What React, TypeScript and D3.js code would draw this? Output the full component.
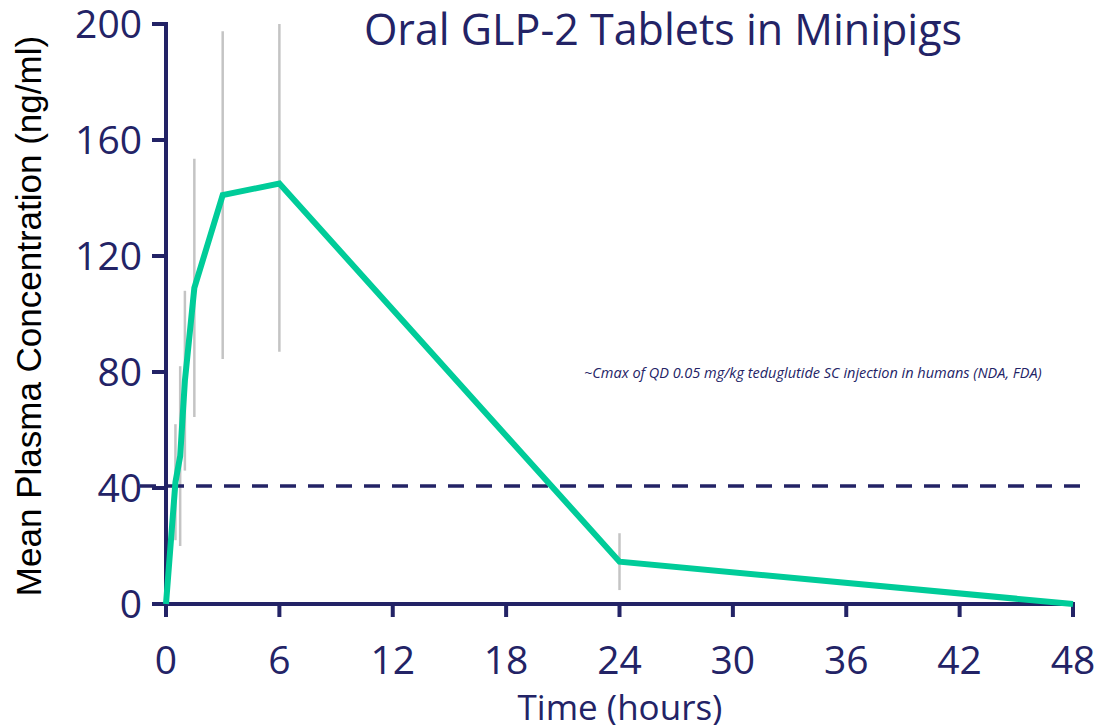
import React from "react";
import * as d3 from "d3";

const timesH = [0, 0.5, 0.75, 1, 1.5, 3, 6, 24, 48];
const meanConc = [0, 42, 51, 77, 109, 141, 145, 14.6, 0];
const sdConc = [0, 20, 31, 31, 44.5, 56.5, 58, 9.8, 0];
const xTicks = [0, 6, 12, 18, 24, 30, 36, 42, 48];
const yTicks = [0, 40, 80, 120, 160, 200];
const cmaxRef = 40;

const NAVY = "#232366";
const GREEN = "#00cc99";

export default function App() {
  const W = 1097, H = 725;
  const x = d3.scaleLinear().domain([0, 48]).range([166, 1073]);
  const y = d3.scaleLinear().domain([0, 200]).range([604, 24]);
  const line = d3.line<number>().x((_, i) => x(timesH[i])).y((d) => y(d));
  const font = "'Open Sans', 'Noto Sans', sans-serif";
  return (
    <svg width={W} height={H} style={{ position: "absolute", left: 0, top: 0 }}>
      <rect width={W} height={H} fill="#fff" />
      {/* error bars */}
      {timesH.map((t, i) =>
        sdConc[i] > 0 ? (
          <line key={"e" + i} x1={x(t)} x2={x(t)} y1={y(Math.min(200, meanConc[i] + sdConc[i]))}
            y2={y(Math.max(0, meanConc[i] - sdConc[i]))} stroke="#c4c4c4" strokeWidth={2.5} />
        ) : null
      )}
      {/* dashed reference */}
      <line x1={140} x2={1090} y1={y(cmaxRef) - 2} y2={y(cmaxRef) - 2} stroke={NAVY} strokeWidth={3.5} strokeDasharray="16 12" />
      {/* axes */}
      <line x1={x(0)} x2={x(0)} y1={y(200) - 2} y2={y(0) + 13} stroke={NAVY} strokeWidth={4} />
      <line x1={152} x2={x(48) + 2} y1={y(0)} y2={y(0)} stroke={NAVY} strokeWidth={4} />
      {yTicks.map((v) => (
        <g key={"y" + v}>
          <line x1={152} x2={x(0)} y1={y(v)} y2={y(v)} stroke={NAVY} strokeWidth={4} />
          <text x={142} y={y(v)} dy="0.36em" textAnchor="end" fill={NAVY} fontFamily={font} fontSize={39}>{v}</text>
        </g>
      ))}
      {xTicks.map((v) => (
        <g key={"x" + v}>
          <line x1={x(v)} x2={x(v)} y1={y(0)} y2={y(0) + 13} stroke={NAVY} strokeWidth={4} />
          <text x={x(v)} y={660} dy="0.36em" textAnchor="middle" fill={NAVY} fontFamily={font} fontSize={39}>{v}</text>
        </g>
      ))}
      {/* data line */}
      <path d={line(meanConc) || ""} fill="none" stroke={GREEN} strokeWidth={6} strokeLinejoin="miter" />
      {/* texts */}
      <text x={663} y={30} dy="0.36em" textAnchor="middle" fill={NAVY} fontFamily={font} fontSize={43}>Oral GLP-2 Tablets in Minipigs</text>
      <text x={620} y={707} dy="0.36em" textAnchor="middle" fill={NAVY} fontFamily={font} fontSize={35}>Time (hours)</text>
      <text transform={`translate(28,316) rotate(-90)`} dy="0.36em" textAnchor="middle" fill="#000" fontFamily="'Liberation Sans', Arial, sans-serif" fontSize={35}>Mean Plasma Concentration (ng/ml)</text>
      <text x={584} y={373} dy="0.36em" fill={NAVY} fontFamily={font} fontStyle="italic" fontSize={14.5}>~Cmax of QD 0.05 mg/kg teduglutide SC injection in humans (NDA, FDA)</text>
    </svg>
  );
}
